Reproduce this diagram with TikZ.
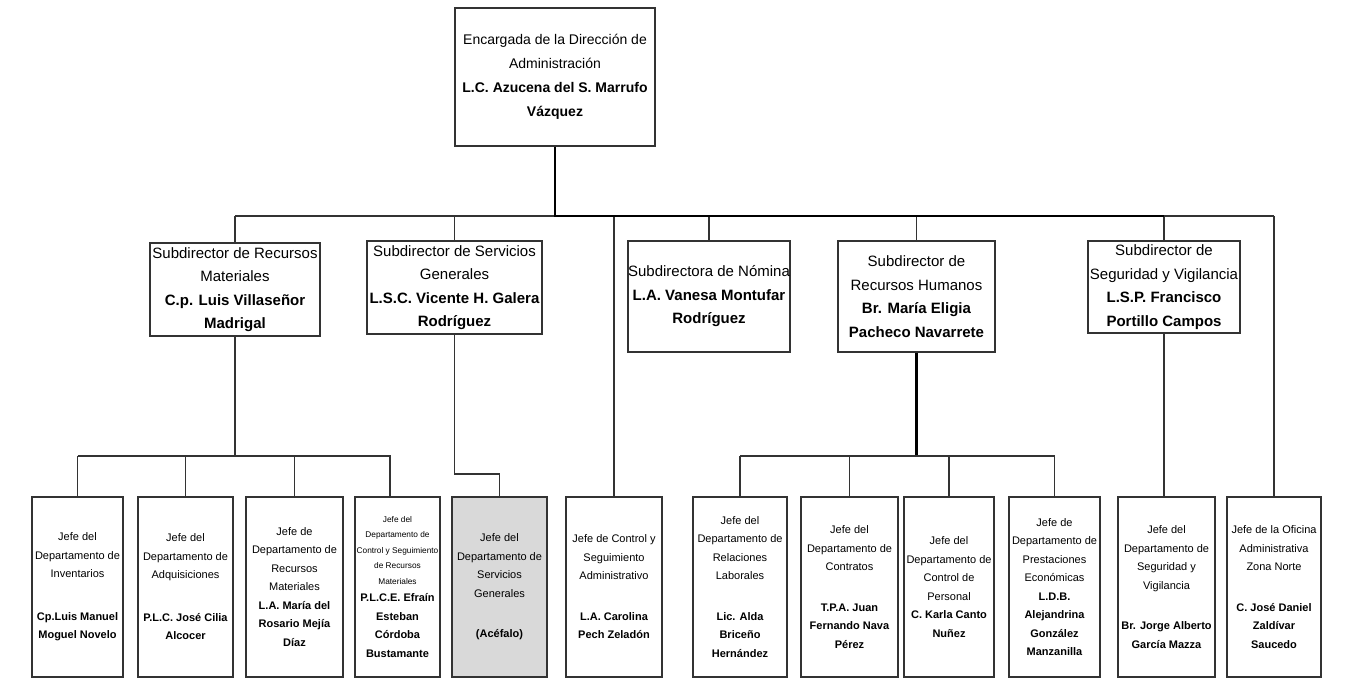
\documentclass[tikz,border=0pt]{standalone}
\usepackage{fontspec}
\setmainfont{Liberation Sans}
\newcommand{\smalltxt}{\fontsize{8.3}{12}\selectfont}
\newcommand{\lowtxt}{\fontsize{11}{18.5}\selectfont}
\begin{document}
\begin{tikzpicture}[x=1pt, y=-1pt,
  box/.style={draw=black!80, line width=1.4pt, align=center, inner sep=0pt},
  topbox/.style={box, minimum width=200, minimum height=138, font=\fontsize{14}{24}\selectfont},
  midbox/.style={box, minimum height=93, font=\fontsize{15}{23.5}\selectfont},
  lowbox/.style={box, minimum height=180, font=\lowtxt},
  line/.style={draw=black!80, line width=1.4pt},
  trunk/.style={draw=black, line width=2.4pt}]
\useasboundingbox (0,0) rectangle (1352,679);

% Direction
\node[topbox] (dir) at (555,77) {Encargada de la Dirección de\\ Administración\\ \textbf{L.C. Azucena del S. Marrufo}\\ \textbf{Vázquez}};

% Subdirections
\node[midbox, minimum width=170] (rmat) at (235,289.5) {Subdirector de Recursos\\ Materiales\\ \textbf{C.p. Luis Villaseñor}\\ \textbf{Madrigal}};
\node[midbox, minimum width=175] (sgen) at (454.5,287.5) {Subdirector de Servicios\\ Generales\\ \textbf{L.S.C. Vicente H. Galera}\\ \textbf{Rodríguez}};
\node[midbox, minimum width=162, minimum height=111] (nom) at (709,296.5) {Subdirectora de Nómina\\ \textbf{L.A. Vanesa Montufar}\\ \textbf{Rodríguez}};
\node[midbox, minimum width=157, minimum height=111] (rh) at (916.5,296.5) {Subdirector de\\ Recursos Humanos\\ \textbf{Br. María Eligia}\\ \textbf{Pacheco Navarrete}};
\node[midbox, minimum width=152, minimum height=92] (seg) at (1164,287) {Subdirector de\\ Seguridad y Vigilancia\\ \textbf{L.S.P. Francisco}\\ \textbf{Portillo Campos}};

% Departments
\node[lowbox, minimum width=91] (inv) at (77.5,587) {Jefe del\\ Departamento de\\ Inventarios\\[24pt] \textbf{Cp.Luis Manuel}\\ \textbf{Moguel Novelo}};
\node[lowbox, minimum width=95] (adq) at (185.5,587) {Jefe del\\ Departamento de\\ Adquisiciones\\[24pt] \textbf{P.L.C. José Cilia}\\ \textbf{Alcocer}};
\node[lowbox, minimum width=97] (recm) at (294.5,587) {Jefe de\\ Departamento de\\ Recursos\\ Materiales\\ \textbf{L.A. María del}\\ \textbf{Rosario Mejía}\\ \textbf{Díaz}};
\node[lowbox, minimum width=85] (ctrlrm) at (397.5,587) {\smalltxt Jefe del\\[-3pt] \smalltxt Departamento de\\[-3pt] \smalltxt Control y Seguimiento\\[-3pt] \smalltxt de Recursos\\[-3pt] \smalltxt Materiales\\[-1pt] \textbf{P.L.C.E. Efraín}\\ \textbf{Esteban}\\ \textbf{Córdoba}\\ \textbf{Bustamante}};
\node[lowbox, minimum width=95, fill=black!15] (servg) at (499.5,587) {Jefe del\\ Departamento de\\ Servicios\\ Generales\\[22pt] \textbf{(Acéfalo)}};
\node[lowbox, minimum width=96] (ctrl) at (614,587) {Jefe de Control y\\ Seguimiento\\ Administrativo\\[22pt] \textbf{L.A. Carolina}\\ \textbf{Pech Zeladón}};
\node[lowbox, minimum width=94] (rel) at (740,587) {Jefe del\\ Departamento de\\ Relaciones\\ Laborales\\[22pt] \textbf{Lic. Alda}\\ \textbf{Briceño}\\ \textbf{Hernández}};
\node[lowbox, minimum width=97] (cont) at (849.5,587) {Jefe del\\ Departamento de\\ Contratos\\[22pt] \textbf{T.P.A. Juan}\\ \textbf{Fernando Nava}\\ \textbf{Pérez}};
\node[lowbox, minimum width=90] (pers) at (949,587) {Jefe del\\ Departamento de\\ Control de\\ Personal\\ \textbf{C. Karla Canto}\\ \textbf{Nuñez}};
\node[lowbox, minimum width=91] (prest) at (1054.5,587) {Jefe de\\ Departamento de\\ Prestaciones\\ Económicas\\ \textbf{L.D.B.}\\ \textbf{Alejandrina}\\ \textbf{González}\\ \textbf{Manzanilla}};
\node[lowbox, minimum width=97] (segv) at (1166.5,587) {Jefe del\\ Departamento de\\ Seguridad y\\ Vigilancia\\[22pt] \textbf{Br. Jorge Alberto}\\ \textbf{García Mazza}};
\node[lowbox, minimum width=94] (zona) at (1274,587) {Jefe de la Oficina\\ Administrativa\\ Zona Norte\\[22pt] \textbf{C. José Daniel}\\ \textbf{Zaldívar}\\ \textbf{Saucedo}};

% Main bus
\coordinate (busL) at (235,216);
\coordinate (lowbus) at (0,456);
\coordinate (sgk) at (0,474);
\coordinate (rmdrop) at (390,0);
\draw[line] (busL) -- (zona.north |- busL);
\foreach \n in {rmat,sgen,nom,rh,seg,ctrl,zona}
  \draw[line] (\n.north) -- (\n.north |- busL);
\draw[trunk] (dir.south) -- (dir.south |- busL) -- (seg.north |- busL);

% Recursos Materiales
\draw[line] (rmat.south) -- (rmat.south |- lowbus);
\draw[line] (inv.north |- lowbus) -- (rmdrop |- lowbus) -- (rmdrop |- ctrlrm.north);
\foreach \n in {inv,adq,recm}
  \draw[line] (\n.north) -- (\n.north |- lowbus);

% Servicios Generales
\draw[line] (sgen.south) -- (sgen.south |- sgk) -| (servg.north);

% Recursos Humanos
\draw[trunk] (rh.south) -- (rh.south |- lowbus);
\draw[line] (rel.north |- lowbus) -- (prest.north |- lowbus);
\foreach \n in {rel,cont,pers,prest}
  \draw[line] (\n.north) -- (\n.north |- lowbus);

% Seguridad
\draw[line] (seg.south) -- (seg.south |- segv.north);
\end{tikzpicture}
\end{document}
